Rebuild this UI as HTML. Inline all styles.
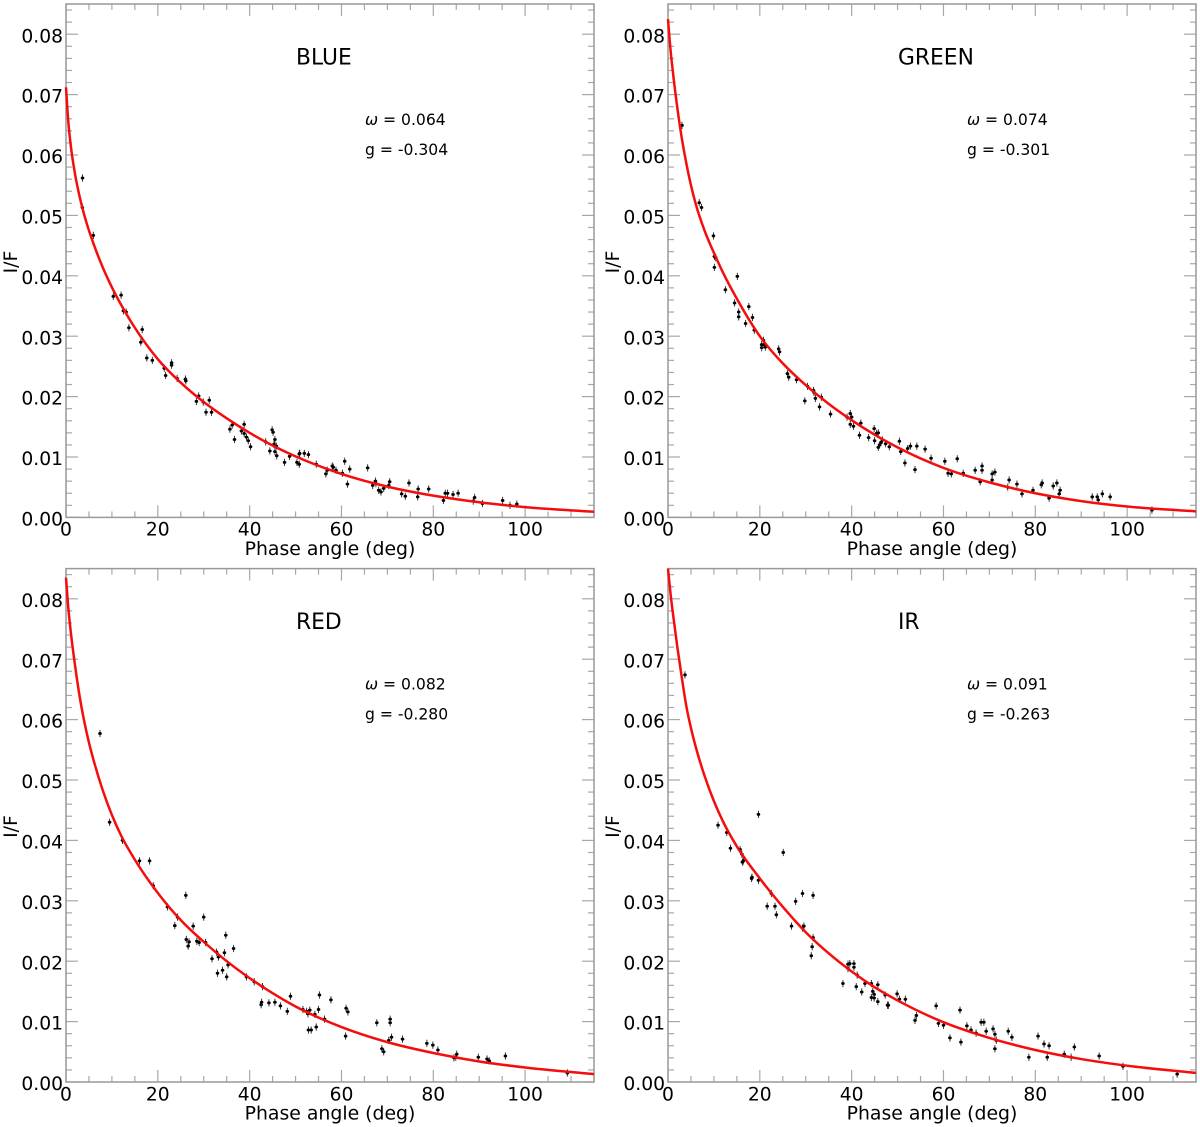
<!DOCTYPE html>
<html lang="en">
<head>
<meta charset="utf-8">
<title>I/F vs phase angle</title>
<style>
html,body{margin:0;padding:0;background:#fff;width:1200px;height:1127px;overflow:hidden}
svg{display:block}
text{font-family:"DejaVu Sans","Liberation Sans",sans-serif;fill:#000}
.tick{font-size:18.7px}
.axis-label{font-size:18.85px}
.title{font-size:21.8px}
.note{font-size:15.6px}
.omega{font-style:italic}
</style>
</head>
<body>
<svg id="chart" width="1200" height="1127" viewBox="0 0 1200 1127" xmlns="http://www.w3.org/2000/svg">
  <rect width="1200" height="1127" fill="#fff"></rect>

  <g id="panel-blue">
    <text class="title" x="296" y="64.5">BLUE</text>
    <text class="note" x="365" y="125"><tspan class="omega">ω</tspan> = 0.064</text>
    <text class="note" x="365" y="155">g = -0.304</text>
    <text class="axis-label" x="330" y="555" text-anchor="middle">Phase angle (deg)</text>
    <text class="axis-label" transform="translate(17,262) rotate(-90)" text-anchor="middle">I/F</text>
  </g>

  <g id="panel-green">
    <text class="title" x="898" y="64.5">GREEN</text>
    <text class="note" x="967" y="125"><tspan class="omega">ω</tspan> = 0.074</text>
    <text class="note" x="967" y="155">g = -0.301</text>
    <text class="axis-label" x="932" y="555" text-anchor="middle">Phase angle (deg)</text>
    <text class="axis-label" transform="translate(619,262) rotate(-90)" text-anchor="middle">I/F</text>
  </g>

  <g id="panel-red">
    <text class="title" x="296" y="629">RED</text>
    <text class="note" x="365" y="689.5"><tspan class="omega">ω</tspan> = 0.082</text>
    <text class="note" x="365" y="719.5">g = -0.280</text>
    <text class="axis-label" x="330" y="1119.5" text-anchor="middle">Phase angle (deg)</text>
    <text class="axis-label" transform="translate(17,826.5) rotate(-90)" text-anchor="middle">I/F</text>
  </g>

  <g id="panel-ir">
    <text class="title" x="898" y="629">IR</text>
    <text class="note" x="967" y="689.5"><tspan class="omega">ω</tspan> = 0.091</text>
    <text class="note" x="967" y="719.5">g = -0.263</text>
    <text class="axis-label" x="932" y="1119.5" text-anchor="middle">Phase angle (deg)</text>
    <text class="axis-label" transform="translate(619,826.5) rotate(-90)" text-anchor="middle">I/F</text>
  </g>
</svg>

<script>
// Axis tick values
const xMajorTicks = [0, 20, 40, 60, 80, 100];
const xMinorTicks = [5, 10, 15, 25, 30, 35, 45, 50, 55, 65, 70, 75, 85, 90, 95, 105, 110, 115];
const yMajorTicks = [0, 0.01, 0.02, 0.03, 0.04, 0.05, 0.06, 0.07, 0.08];
const yMinorTicks = [0.002, 0.004, 0.006, 0.008, 0.012, 0.014, 0.016, 0.018, 0.022, 0.024, 0.026, 0.028, 0.032, 0.034, 0.036, 0.038, 0.042, 0.044, 0.046, 0.048, 0.052, 0.054, 0.056, 0.058, 0.062, 0.064, 0.066, 0.068, 0.072, 0.074, 0.076, 0.078, 0.082, 0.084];
const xLabels = ["0", "20", "40", "60", "80", "100"];
const yLabels = ["0.00", "0.01", "0.02", "0.03", "0.04", "0.05", "0.06", "0.07", "0.08"];

// Model curve samples
const curvePhase = [0, 0.5, 1, 2, 3, 4, 5, 6, 8, 10, 12, 15, 20, 25, 30, 35, 40, 45, 50, 60, 70, 80, 90, 100, 115];
const blueCurve = [.0712, .0655, .0618, .0567, .0530, .0500, .0475, .0453, .0414, .0381, .0352, .0314, .0262, .0223, .0191, .0164, .0140, .0119, .0101, .0072, .0051, .0036, .0025, .0017, .00093];
const greenCurve = [.0825, .0778, .0742, .0680, .0628, .0586, .0550, .0520, .0474, .0438, .0405, .0362, .0300, .0255, .0219, .0188, .0161, .0137, .0116, .0082, .0058, .0040, .0027, .0018, .0010];
const redCurve = [.0835, .0785, .0748, .0688, .0637, .0596, .0562, .0533, .0483, .0442, .0408, .0368, .0313, .0268, .0232, .0200, .0172, .0147, .0125, .0091, .0066, .0048, .0034, .0024, .0013];
const irCurve = [.0850, .0812, .0780, .0722, .0670, .0622, .0586, .0556, .0506, .0465, .0431, .0390, .0337, .0290, .0248, .0213, .0183, .0157, .0135, .0099, .0073, .0053, .0038, .0027, .0015];

// Measured points
const bluePhase = [3.6, 3.56, 5.95, 10.3, 12, 12.5, 13.1, 13.7, 16.6, 16.3, 17.6, 18.8, 21.4, 21.7, 23, 23, 24.2, 26, 26.1, 28.4, 28.9, 29.9, 30.5, 31.2, 31.7, 35.7, 36.2, 36.7, 38.2, 38.8, 38.8, 39.3, 39.7, 40.2, 43.5, 44.4, 44.9, 45.1, 45.5, 45.3, 45.5, 45.8, 45.9, 47.6, 48.7, 50.3, 50.8, 50.8, 50.9, 51.9, 52.8, 54.5, 56.6, 56.9, 58, 58.2, 58.8, 60.2, 60.7, 61.3, 61.8, 65.7, 66.8, 67.4, 67.5, 68.1, 68.6, 69.2, 70.3, 70.5, 73.1, 73.9, 74.7, 76.7, 76.6, 79, 82.2, 82.6, 83.1, 84.3, 85.4, 88.7, 89, 90.7, 95.1, 96.7, 98.2];
const blueIF = [.0562, .0513, .0467, .0366, .0368, .0342, .0340, .0314, .0311, .0290, .0264, .0260, .0247, .0235, .0252, .0256, .0230, .0229, .0226, .0192, .0201, .0191, .0174, .0194, .0174, .0146, .0153, .0129, .0143, .0154, .0139, .0133, .0127, .0117, .0125, .0110, .0145, .0141, .0129, .0121, .0109, .0118, .0102, .0091, .0101, .0091, .0105, .0088, .0106, .0106, .0104, .0088, .0072, .0078, .0085, .0083, .0078, .0073, .0093, .0055, .0080, .0082, .0053, .0060, .0056, .0045, .0042, .0048, .0053, .0059, .0039, .0035, .0057, .0047, .0034, .0047, .0028, .0040, .0040, .0038, .0040, .0027, .0033, .0023, .0028, .0020, .0022];

const greenPhase = [3.05, 6.8, 7.3, 9.9, 10.1, 10.4, 10.1, 12.5, 15.1, 14.5, 15.4, 15.4, 16.9, 17.6, 18.4, 18.8, 20.4, 20.4, 20.8, 20.9, 21.2, 24.1, 24.3, 26, 26.3, 28, 29.8, 30.4, 31.7, 31.8, 32.1, 33, 33.4, 35.4, 39, 39.7, 40, 39.7, 40.4, 42, 41.7, 43.7, 44.9, 45, 45.8, 45.4, 45.8, 46.1, 46.4, 46.7, 47.4, 48.2, 50.4, 50.7, 51.6, 52.2, 52.8, 54.2, 53.8, 56, 57.3, 60.3, 61, 61.7, 63, 64.3, 66.9, 68.4, 68.4, 68, 70.6, 71.2, 70.6, 74.3, 76, 74, 77.1, 79.5, 81.3, 81.5, 83, 83.9, 84.7, 85.4, 85.2, 92.4, 93.5, 93.7, 94.6, 96.3, 105.4];
const greenIF = [.0649, .0521, .0513, .0466, .0432, .0430, .0414, .0377, .0399, .0355, .0340, .0332, .0321, .0349, .0331, .0310, .0281, .0286, .0293, .0286, .0282, .0279, .0274, .0238, .0232, .0228, .0193, .0217, .0210, .0207, .0197, .0183, .0199, .0171, .0166, .0172, .0166, .0154, .0151, .0156, .0136, .0132, .0147, .0127, .0140, .0139, .0116, .0120, .0124, .0128, .0122, .0117, .0126, .0109, .0090, .0114, .0118, .0118, .0079, .0113, .0098, .0093, .0073, .0072, .0097, .0073, .0078, .0078, .0085, .0059, .0072, .0075, .0062, .0062, .0055, .0050, .0039, .0045, .0054, .0057, .0032, .0052, .0057, .0045, .0039, .0034, .0034, .0029, .0039, .0034, .0012];

const redPhase = [7.4, 9.5, 12.3, 16, 18.2, 19, 22.1, 24.3, 23.7, 26.1, 27.7, 26.2, 26.8, 26.6, 28.5, 29, 30, 30.4, 31.8, 32.8, 33.2, 33, 34.1, 34.5, 34.8, 35, 35.3, 36.5, 39.3, 41, 42.8, 42.5, 42.6, 44.2, 45.5, 46.7, 48.2, 48.9, 51.6, 52.4, 52.7, 53.1, 52.8, 53.4, 54.5, 54.2, 55, 55.2, 56.3, 57.7, 61, 61.4, 60.9, 67.7, 68.8, 69.2, 70.6, 70.6, 70.3, 70.9, 73.3, 78.6, 79.9, 81, 84.5, 85.1, 84.9, 89.8, 91.7, 92.2, 95.7, 109.2];
const redIF = [.0577, .0430, .0400, .0366, .0366, .0325, .0290, .0273, .0259, .0309, .0258, .0236, .0232, .0225, .0233, .0231, .0273, .0231, .0204, .0215, .0207, .0180, .0185, .0214, .0243, .0174, .0194, .0221, .0174, .0166, .0158, .0128, .0132, .0131, .0132, .0126, .0117, .0142, .0120, .0117, .0113, .0119, .0086, .0086, .0091, .0112, .0120, .0144, .0104, .0136, .0122, .0116, .0076, .0098, .0055, .0050, .0098, .0104, .0069, .0074, .0071, .0064, .0061, .0053, .0040, .0046, .0041, .0041, .0038, .0035, .0043, .0015];

const irPhase = [3.7, 10.9, 12.8, 13.6, 15.7, 16.1, 16.2, 16.4, 18.3, 18.2, 19.7, 19.7, 21.6, 22.5, 23.3, 23.6, 25.1, 26.9, 27.8, 29.3, 29.3, 29.6, 31.6, 31.6, 31.4, 31.2, 38.1, 39.2, 39.2, 39.6, 40.5, 40.5, 41, 41.2, 42.2, 42.9, 44.3, 44.3, 44.6, 44.9, 44.9, 45.7, 45.7, 47.3, 47.8, 48, 49.9, 50.4, 51.7, 53.8, 54.1, 58.4, 58.9, 60, 61.4, 63.6, 63.8, 65.1, 66, 67.1, 68.2, 68.8, 69.3, 70.8, 71.2, 71.5, 71.2, 74.1, 74.9, 78.6, 80.6, 81.9, 82.6, 83, 86.3, 87.8, 88.5, 93.9, 99.1, 110.9];
const irIF = [.0674, .0425, .0413, .0387, .0385, .0377, .0364, .0366, .0339, .0337, .0334, .0443, .0291, .0312, .0291, .0277, .0380, .0258, .0299, .0312, .0255, .0258, .0309, .0239, .0224, .0209, .0163, .0188, .0195, .0196, .0196, .0190, .0158, .0177, .0149, .0163, .0163, .0140, .0150, .0145, .0139, .0161, .0133, .0144, .0127, .0127, .0146, .0137, .0137, .0102, .0110, .0126, .0097, .0094, .0073, .0119, .0066, .0093, .0086, .0081, .0099, .0099, .0084, .0088, .0079, .0069, .0055, .0084, .0074, .0041, .0076, .0063, .0041, .0060, .0046, .0041, .0058, .0043, .0026, .0013];

const errorBar = 0.0006;
const xDomainMax = 115;
const yDomainMax = 0.085;

const SVGNS = 'http://www.w3.org/2000/svg';

function make(tag, attrs, parent) {
  const el = document.createElementNS(SVGNS, tag);
  for (const k in attrs) el.setAttribute(k, attrs[k]);
  parent.appendChild(el);
  return el;
}

// monotone cubic path through the samples
function smoothPath(xs, ys) {
  const n = xs.length, d = [], m = [];
  for (let i = 0; i < n - 1; i++) d.push((ys[i + 1] - ys[i]) / (xs[i + 1] - xs[i]));
  m.push(d[0]);
  for (let i = 1; i < n - 1; i++) {
    const h0 = xs[i] - xs[i - 1], h1 = xs[i + 1] - xs[i];
    m.push(d[i - 1] * d[i] <= 0 ? 0 : (h0 * d[i] + h1 * d[i - 1]) / (h0 + h1));
  }
  m.push(d[n - 2]);
  let p = 'M' + xs[0].toFixed(2) + ' ' + ys[0].toFixed(2);
  for (let i = 0; i < n - 1; i++) {
    const h = (xs[i + 1] - xs[i]) / 3;
    p += 'C' + (xs[i] + h).toFixed(2) + ' ' + (ys[i] + m[i] * h).toFixed(2) + ' ' +
      (xs[i + 1] - h).toFixed(2) + ' ' + (ys[i + 1] - m[i + 1] * h).toFixed(2) + ' ' +
      xs[i + 1].toFixed(2) + ' ' + ys[i + 1].toFixed(2);
  }
  return p;
}

function drawPanel(id, box, curve, px, py) {
  const g = document.getElementById(id);
  const sx = v => box.left + (v / xDomainMax) * (box.right - box.left);
  const sy = v => box.bottom - (v / yDomainMax) * (box.bottom - box.top);

  const ticks = make('g', { stroke: '#a8a8a8', 'stroke-width': 1.2, fill: 'none' }, g);
  
  

  xMajorTicks.forEach(v => {
    make('line', { x1: sx(v), x2: sx(v), y1: box.bottom, y2: box.bottom - 12 }, ticks);
    make('line', { x1: sx(v), x2: sx(v), y1: box.top, y2: box.top + 12 }, ticks);
  });
  xMinorTicks.forEach(v => {
    make('line', { x1: sx(v), x2: sx(v), y1: box.bottom, y2: box.bottom - 6 }, ticks);
    make('line', { x1: sx(v), x2: sx(v), y1: box.top, y2: box.top + 6 }, ticks);
  });
  yMajorTicks.forEach(v => {
    make('line', { y1: sy(v), y2: sy(v), x1: box.left, x2: box.left + 12 }, ticks);
    make('line', { y1: sy(v), y2: sy(v), x1: box.right, x2: box.right - 12 }, ticks);
  });
  yMinorTicks.forEach(v => {
    make('line', { y1: sy(v), y2: sy(v), x1: box.left, x2: box.left + 6 }, ticks);
    make('line', { y1: sy(v), y2: sy(v), x1: box.right, x2: box.right - 6 }, ticks);
  });

  const frame = make('rect', { x: box.left, y: box.top, width: box.right - box.left, height: box.bottom - box.top, fill: 'none', stroke: '#999', 'stroke-width': 1.5 }, g);
  
  

  xMajorTicks.forEach((v, i) => {
    const t = make('text', { class: 'tick', x: sx(v), y: box.bottom + 18.3, 'text-anchor': 'middle' }, g);
    t.textContent = xLabels[i];
    
    
  });
  yMajorTicks.forEach((v, i) => {
    const t = make('text', { class: 'tick', x: box.left - 3, y: sy(v) + 8.1, 'text-anchor': 'end' }, g);
    t.textContent = yLabels[i];
    
    
  });

  const pts = make('g', {}, g);
  
  
  px.forEach((v, i) => {
    const x = sx(v), y = sy(py[i]);
    const bar = make('line', { x1: x, x2: x, y1: sy(py[i] - errorBar), y2: sy(py[i] + errorBar), stroke: '#222', 'stroke-width': 0.9 }, pts);
    
    
    const dot = make('ellipse', { cx: x, cy: y, rx: 1.8, ry: 1.5, fill: '#000' }, pts);
    
    
  });

  const line = make('path', {
    d: smoothPath(curvePhase.map(sx), curve.map(sy)),
    fill: 'none', stroke: '#f50d0d', 'stroke-width': 2.5, 'stroke-linejoin': 'round'
  }, g);
  
  
}

const topRowBox = { top: 4, bottom: 517.4 };
const bottomRowBox = { top: 568.6, bottom: 1082 };

drawPanel('panel-blue', { left: 66, right: 594, top: topRowBox.top, bottom: topRowBox.bottom }, blueCurve, bluePhase, blueIF);
drawPanel('panel-green', { left: 668, right: 1196, top: topRowBox.top, bottom: topRowBox.bottom }, greenCurve, greenPhase, greenIF);
drawPanel('panel-red', { left: 66, right: 594, top: bottomRowBox.top, bottom: bottomRowBox.bottom }, redCurve, redPhase, redIF);
drawPanel('panel-ir', { left: 668, right: 1196, top: bottomRowBox.top, bottom: bottomRowBox.bottom }, irCurve, irPhase, irIF);
</script>
</body>
</html>
